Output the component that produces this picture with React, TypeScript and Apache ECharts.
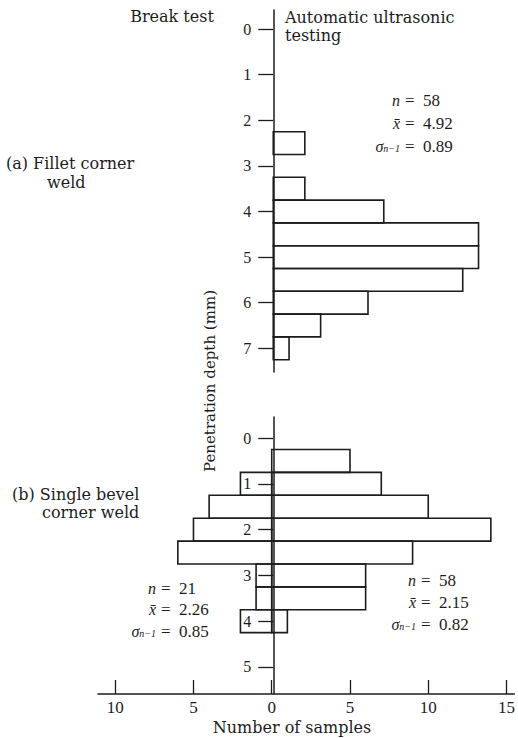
import React, { useEffect, useRef } from 'react';
import * as echarts from 'echarts';

// ---- data ----
const binWidth = 0.5; // mm
// (a) Fillet corner weld — automatic ultrasonic testing
const binsA_ut = [2.25, 3.25, 3.75, 4.25, 4.75, 5.25, 5.75, 6.25, 6.75];
const countsA_ut = [2, 2, 7, 13, 13, 12, 6, 3, 1];
// (b) Single bevel corner weld — automatic ultrasonic testing
const binsB_ut = [0.25, 0.75, 1.25, 1.75, 2.25, 2.75, 3.25, 3.75];
const countsB_ut = [5, 7, 10, 14, 9, 6, 6, 1];
// (b) Single bevel corner weld — break test
const binsB_break = [0.75, 1.25, 1.75, 2.25, 2.75, 3.25, 3.75];
const countsB_break = [2, 4, 5, 6, 1, 1, 2];

const depthTicksA = [0, 1, 2, 3, 4, 5, 6, 7];
const depthTicksB = [0, 1, 2, 3, 4, 5];
const sampleTicks = [-10, -5, 0, 5, 10, 15];

const statsA = [['n', '58'], ['x̄', '4.92'], ['σ', '0.89']];
const statsB_break = [['n', '21'], ['x̄', '2.26'], ['σ', '0.85']];
const statsB_ut = [['n', '58'], ['x̄', '2.15'], ['σ', '0.82']];

const FONT = '"DejaVu Serif", "Liberation Serif", serif';
const NUMFONT = '"Liberation Serif", "DejaVu Serif", serif';
const INK = '#1c1c1c';

function buildData(starts: number[], counts: number[], sign: number) {
  return starts.map((s, i) => [s, s + binWidth, sign * counts[i]]);
}

const renderBin = (params: any, api: any) => {
  const d0 = api.value(0);
  const d1 = api.value(1);
  const v = api.value(2);
  const p0 = api.coord([0, d0]);
  const p1 = api.coord([v, d1]);
  return {
    type: 'rect',
    shape: {
      x: Math.min(p0[0], p1[0]),
      y: Math.min(p0[1], p1[1]),
      width: Math.abs(p1[0] - p0[0]),
      height: Math.abs(p1[1] - p0[1]),
    },
    style: { fill: 'none', stroke: INK, lineWidth: 1.6 },
  };
};

function statTexts(rows: string[][], xEq: number, ys: number[]) {
  const out: any[] = [];
  rows.forEach((r, i) => {
    const isSigma = r[0] === 'σ';
    out.push({
      type: 'text',
      x: xEq - 5,
      y: ys[i],
      style: {
        text: isSigma ? '{g|σ}{s|n−1}' : '{g|' + r[0] + '}',
        rich: {
          g: { font: 'italic 16px ' + NUMFONT, fill: INK },
          s: { font: 'italic 10px ' + NUMFONT, fill: INK, padding: [5, 0, 0, 0] },
        },
        textAlign: 'right',
        textVerticalAlign: 'middle',
      },
    });
    out.push({
      type: 'text',
      x: xEq,
      y: ys[i],
      style: {
        text: '=  ' + r[1],
        font: '17px ' + NUMFONT,
        fill: INK,
        textAlign: 'left',
        textVerticalAlign: 'middle',
      },
    });
  });
  return out;
}

const gridLeft = 98;
const gridWidth = 420;
const xMin = -11.1;
const xMax = 15.5;
// pixel offset of the zero-sample line from the grid's left edge
const zeroOffset = (-xMin / (xMax - xMin)) * gridWidth;

const yAxisCommon = (min: number, max: number, ticks: number[]) => ({
  type: 'value',
  inverse: true,
  min,
  max,
  position: 'left',
  offset: -zeroOffset,
  splitLine: { show: false },
  axisLine: { show: true, onZero: false, lineStyle: { color: INK, width: 1.5 } },
  axisTick: { show: true, customValues: ticks, length: 15, lineStyle: { color: INK, width: 1.3 } },
  axisLabel: { customValues: ticks, margin: 22, fontFamily: NUMFONT, fontSize: 16, color: INK },
});

const label = (text: string, x: number, y: number, align: string, size = 16) => ({
  type: 'text',
  x,
  y,
  style: { text, font: size + 'px ' + FONT, fill: INK, textAlign: align, textVerticalAlign: 'middle' },
});

const option: any = {
  animation: false,
  backgroundColor: '#fff',
  grid: [
    { left: gridLeft, width: gridWidth, top: 10, height: 362 },
    { left: gridLeft, width: gridWidth, top: 417, bottom: 44 },
  ],
  xAxis: [
    {
      gridIndex: 0,
      type: 'value',
      min: xMin,
      max: xMax,
      show: false,
    },
    {
      gridIndex: 1,
      type: 'value',
      min: xMin,
      max: xMax,
      splitLine: { show: false },
      axisLine: { show: true, onZero: false, lineStyle: { color: INK, width: 1.5 } },
      axisTick: { show: true, inside: true, length: 14, customValues: sampleTicks, lineStyle: { color: INK, width: 1.3 } },
      axisLabel: {
        customValues: sampleTicks,
        margin: 5,
        fontFamily: NUMFONT,
        fontSize: 17,
        color: INK,
        formatter: (v: number) => String(Math.abs(v)),
      },
    },
  ],
  yAxis: [
    { gridIndex: 0, ...yAxisCommon(-0.42, 7.52, depthTicksA) },
    { gridIndex: 1, ...yAxisCommon(-0.46, 5.59, depthTicksB) },
  ],
  series: [
    {
      type: 'custom',
      xAxisIndex: 0,
      yAxisIndex: 0,
      renderItem: renderBin,
      encode: { x: 2, y: [0, 1] },
      data: buildData(binsA_ut, countsA_ut, 1),
    },
    {
      type: 'custom',
      xAxisIndex: 1,
      yAxisIndex: 1,
      renderItem: renderBin,
      encode: { x: 2, y: [0, 1] },
      data: buildData(binsB_ut, countsB_ut, 1),
    },
    {
      type: 'custom',
      xAxisIndex: 1,
      yAxisIndex: 1,
      renderItem: renderBin,
      encode: { x: 2, y: [0, 1] },
      data: buildData(binsB_break, countsB_break, -1),
    },
  ],
  graphic: [
    label('Break test', 172, 16, 'center'),
    label('Automatic ultrasonic', 285, 17, 'left'),
    label('testing', 285, 35, 'left'),
    label('(a) Fillet corner', 6, 163, 'left'),
    label('weld', 47, 182, 'left'),
    label('(b) Single bevel', 12, 494, 'left'),
    label('corner weld', 42, 512, 'left'),
    { type: 'text', x: 210, y: 381, rotation: Math.PI / 2, style: { text: 'Penetration depth (mm)', font: '15px ' + FONT, fill: INK, textAlign: 'center', textVerticalAlign: 'middle' } },
    label('Number of samples', 292, 727, 'center', 16),
    ...statTexts(statsA, 405, [100, 123, 146]),
    ...statTexts(statsB_break, 161, [588, 609, 631]),
    ...statTexts(statsB_ut, 421, [580, 602, 624]),
  ],
};

export default function App() {
  const ref = useRef<HTMLDivElement>(null);
  useEffect(() => {
    const chart = echarts.init(ref.current!, null, { renderer: 'svg' });
    chart.setOption(option);
    return () => chart.dispose();
  }, []);
  return (
    <div
      ref={ref}
      style={{ position: 'absolute', left: 0, top: 0, width: 518, height: 738, background: '#fff' }}
    />
  );
}
